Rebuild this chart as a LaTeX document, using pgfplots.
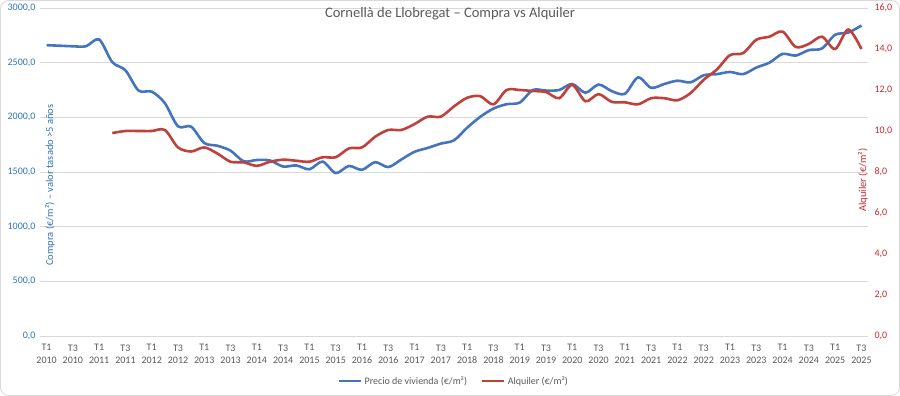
\documentclass[border=0pt]{standalone}
\usepackage{pgfplots}
\pgfplotsset{compat=1.18}
\usepackage{fontspec}
\setmainfont{Carlito}
\definecolor{bluel}{RGB}{68,116,190}
\definecolor{redl}{RGB}{192,64,60}
\definecolor{bluetx}{RGB}{46,117,182}
\definecolor{redtx}{RGB}{200,40,45}
\definecolor{graytx}{RGB}{89,89,89}
\definecolor{gridc}{RGB}{217,217,217}
\pgfplotstableread{
i v
0 2660
1 2655
2 2650
3 2650
4 2712
5 2505
6 2430
7 2245
8 2235
9 2130
10 1918
11 1915
12 1765
13 1740
14 1695
15 1598
16 1610
17 1605
18 1550
19 1560
20 1525
21 1595
22 1490
23 1555
24 1520
25 1590
26 1545
27 1615
28 1685
29 1720
30 1760
31 1790
32 1905
33 2005
34 2080
35 2120
36 2135
37 2250
38 2245
39 2250
40 2305
41 2225
42 2300
43 2240
44 2215
45 2365
46 2270
47 2305
48 2335
49 2320
50 2385
51 2395
52 2415
53 2395
54 2455
55 2500
56 2580
57 2565
58 2615
59 2630
60 2755
61 2775
62 2840
}\compra
\pgfplotstableread{
i v
5 9.9
6 10.0
7 10.0
8 10.0
9 10.05
10 9.2
11 9.0
12 9.2
13 8.9
14 8.5
15 8.47
16 8.3
17 8.5
18 8.6
19 8.55
20 8.5
21 8.72
22 8.72
23 9.15
24 9.2
25 9.72
26 10.05
27 10.05
28 10.34
29 10.7
30 10.7
31 11.2
32 11.62
33 11.7
34 11.3
35 12.0
36 12.0
37 11.95
38 11.9
39 11.6
40 12.25
41 11.45
42 11.8
43 11.42
44 11.4
45 11.3
46 11.6
47 11.6
48 11.5
49 11.85
50 12.5
51 13.0
52 13.7
53 13.8
54 14.45
55 14.6
56 14.85
57 14.1
58 14.25
59 14.6
60 14.0
61 14.95
62 14.0
}\alquiler
\begin{document}
\begin{tikzpicture}
\useasboundingbox (0,0) rectangle (900pt,396pt);
\draw[gridc, line width=0.8pt, rounded corners=8pt] (0.5pt,0.5pt) rectangle (899.5pt,395.5pt);
\begin{axis}[
  at={(40pt,60pt)}, anchor=south west,
  scale only axis, width=828pt, height=328pt,
  xmin=-0.5, xmax=62.5, ymin=0, ymax=3000,
  ytick={0,500,...,3000},
  ymajorgrids, grid style={color=gridc, line width=0.9pt},
  axis line style={draw=none}, tick style={draw=none},
  xtick={0,2,...,62},
  xticklabels={{T1\\2010},{T3\\2010},{T1\\2011},{T3\\2011},{T1\\2012},{T3\\2012},{T1\\2013},{T3\\2013},{T1\\2014},{T3\\2014},{T1\\2015},{T3\\2015},{T1\\2016},{T3\\2016},{T1\\2017},{T3\\2017},{T1\\2018},{T3\\2018},{T1\\2019},{T3\\2019},{T1\\2020},{T3\\2020},{T1\\2021},{T3\\2021},{T1\\2022},{T3\\2022},{T1\\2023},{T3\\2023},{T1\\2024},{T3\\2024},{T1\\2025},{T3\\2025}},
  xticklabel style={align=center, text=graytx, font=\fontsize{10}{12.5}\selectfont, yshift=-5pt},
  yticklabel style={text=bluetx, font=\fontsize{10}{11}\selectfont, xshift=-1pt},
  /pgf/number format/assume math mode=true,
  yticklabel={\pgfmathprintnumber[fixed, fixed zerofill, precision=1, use comma, 1000 sep={}]{\tick}},
  clip=false,
]
\addplot[bluel, line width=2.6pt, smooth, tension=0.5] table[x=i, y=v] {\compra};
\end{axis}
\begin{axis}[
  at={(40pt,60pt)}, anchor=south west,
  scale only axis, width=828pt, height=328pt,
  xmin=-0.5, xmax=62.5, ymin=0, ymax=16,
  ytick={0,2,...,16},
  axis y line*=right, axis x line=none,
  axis line style={draw=none}, tick style={draw=none},
  yticklabel style={text=redtx, font=\fontsize{10}{11}\selectfont, xshift=3pt},
  /pgf/number format/assume math mode=true,
  yticklabel={\pgfmathprintnumber[fixed, fixed zerofill, precision=1, use comma, 1000 sep={}]{\tick}},
  legend style={at={(0.5,-0.137)}, anchor=center, draw=none, fill=none,
    font=\fontsize{10}{11}\selectfont, text=graytx, legend columns=2,
    /tikz/every even column/.append style={column sep=12pt}},
  legend image code/.code={\draw[#1, line width=2.6pt] (0pt,0pt) -- (22pt,0pt);},
  clip=false,
]
\addlegendimage{bluel}
\addlegendentry{Precio de vivienda (€/m²)}
\addplot[redl, line width=2.6pt, smooth, tension=0.5] table[x=i, y=v] {\alquiler};
\addlegendentry{Alquiler (€/m²)}
\end{axis}
\node[text=graytx, font=\fontsize{14.5}{16}\selectfont] at (450pt,382pt) {Cornellà de Llobregat – Compra vs Alquiler};
\node[text=bluetx, rotate=90, font=\fontsize{10.5}{12}\selectfont] at (50pt,211pt) {Compra (€/m²) – valor tasado >5 años};
\node[text=redtx, rotate=90, font=\fontsize{10.5}{12}\selectfont] at (863pt,216pt) {Alquiler (€/m²)};
\end{tikzpicture}
\end{document}
